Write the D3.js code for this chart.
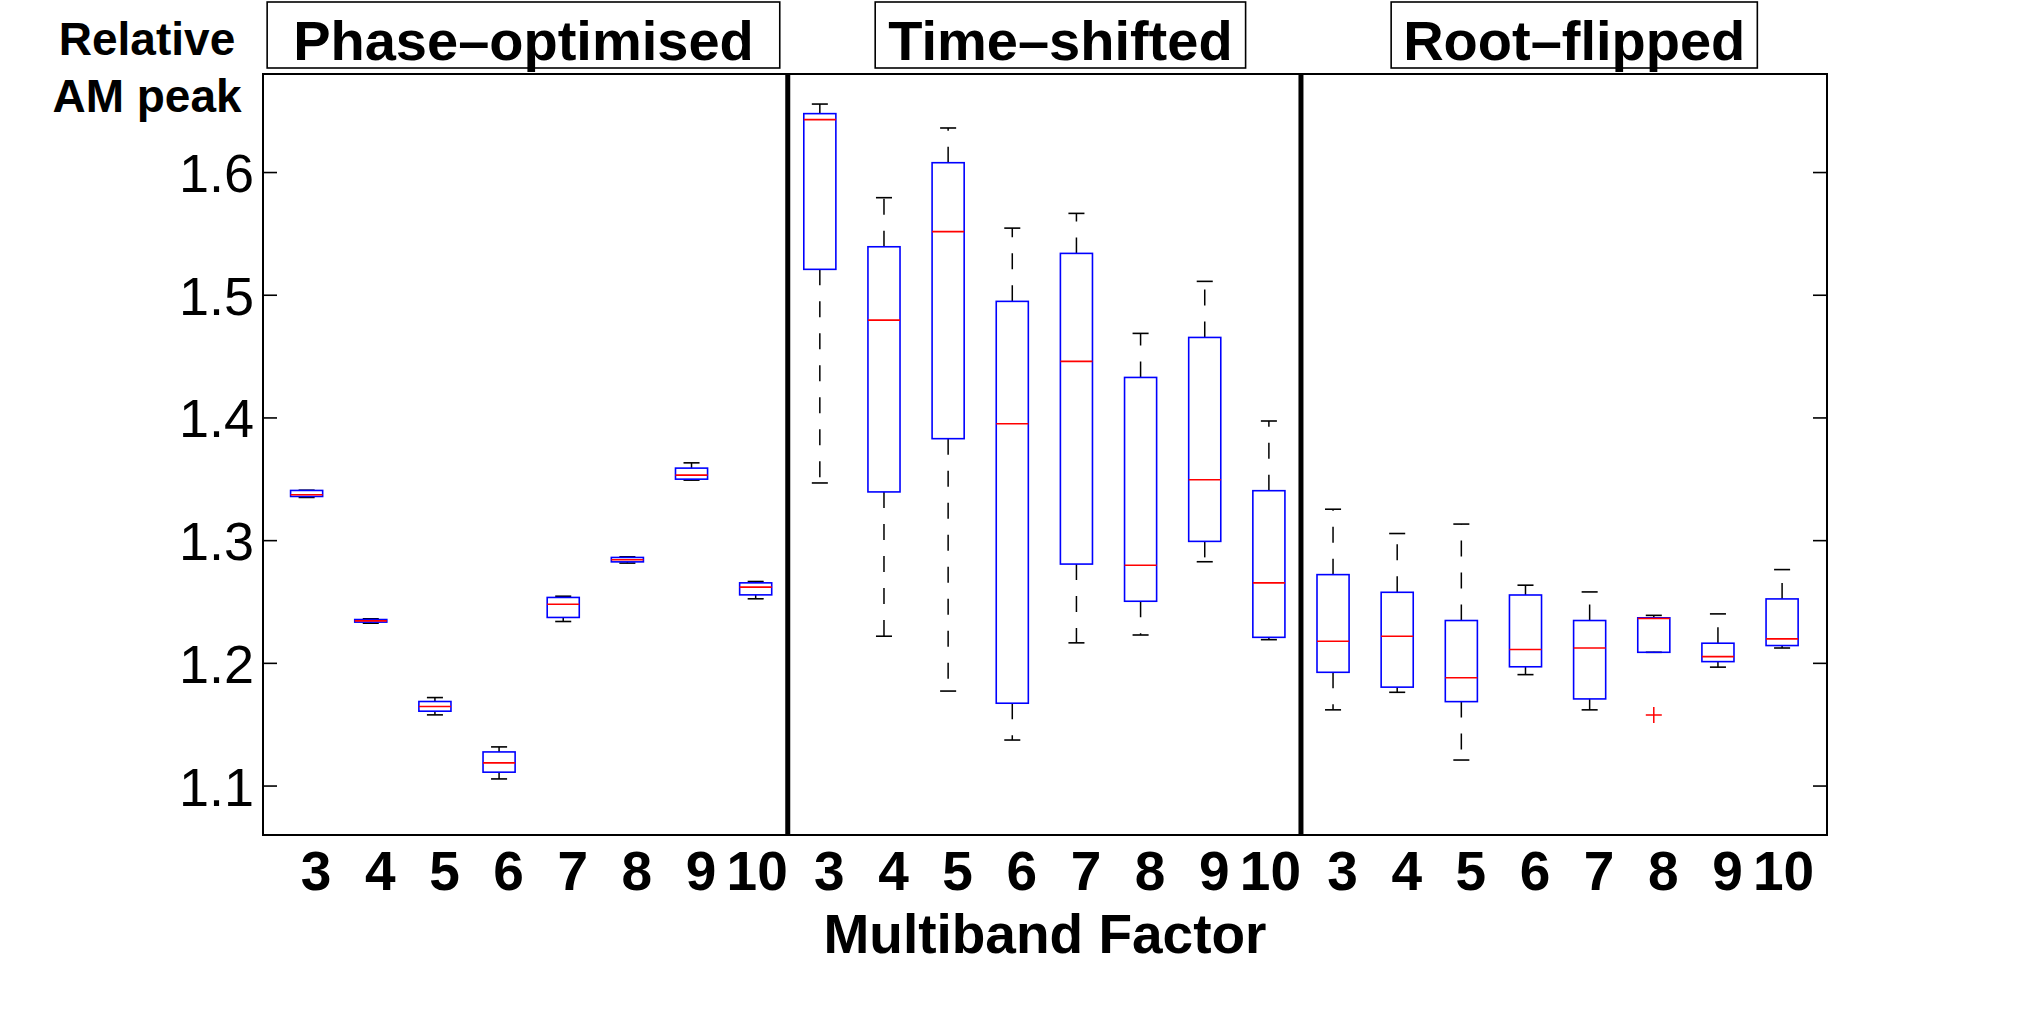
<!DOCTYPE html>
<html><head><meta charset="utf-8">
<script src="https://cdn.jsdelivr.net/npm/d3@7"></script>
<style>
body{margin:0;background:#fff}
svg{display:block}
text{font-family:"Liberation Sans",Arial,Helvetica,sans-serif;fill:#000}
</style>
</head><body>
<svg id="chart" width="2017" height="1014"></svg>
<script>
// ---------- data ----------
const panels = ["Phase–optimised", "Time–shifted", "Root–flipped"];
const panelTitleCenters = [4.38, 12.75, 20.76];
const factors = [3, 4, 5, 6, 7, 8, 9, 10];
const yTicks = [1.1, 1.2, 1.3, 1.4, 1.5, 1.6];
const yLabel = ["Relative", "AM peak"];
const xLabel = "Multiband Factor";

// order: Phase-optimised 3..10, Time-shifted 3..10, Root-flipped 3..10
const whiskerLow = [
  1.3348, 1.2323, 1.1576, 1.1054, 1.2337, 1.2813, 1.3489, 1.2522,
  1.3466, 1.2217, 1.1770, 1.1371, 1.2163, 1.2227, 1.2824, 1.2189,
  1.1617, 1.1760, 1.1208, 1.1904, 1.1617, 1.2086, 1.1965, 1.2121
];
const q1 = [
  1.3356, 1.2332, 1.1606, 1.1109, 1.2370, 1.2823, 1.3497, 1.2554,
  1.5207, 1.3393, 1.3827, 1.1671, 1.2805, 1.2502, 1.2990, 1.2208,
  1.1923, 1.1802, 1.1684, 1.1968, 1.1706, 1.2086, 1.2010, 1.2141
];
const median = [
  1.3370, 1.2342, 1.1644, 1.1185, 1.2478, 1.2840, 1.3530, 1.2617,
  1.6427, 1.4793, 1.5514, 1.3949, 1.4457, 1.2796, 1.3492, 1.2652,
  1.2176, 1.2217, 1.1879, 1.2109, 1.2121, 1.2361, 1.2051, 1.2195
];
const q3 = [
  1.3405, 1.2353, 1.1685, 1.1274, 1.2533, 1.2859, 1.3587, 1.2652,
  1.6476, 1.5391, 1.6076, 1.4946, 1.5337, 1.4326, 1.4652, 1.3403,
  1.2719, 1.2575, 1.2345, 1.2553, 1.2345, 1.2367, 1.2160, 1.2521
];
const whiskerHigh = [
  1.3407, 1.2359, 1.1717, 1.1315, 1.2543, 1.2864, 1.3630, 1.2663,
  1.6554, 1.5791, 1.6359, 1.5543, 1.5663, 1.4685, 1.5109, 1.3971,
  1.3252, 1.3054, 1.3131, 1.2633, 1.2578, 1.2387, 1.2399, 1.2760
];
const outlierPanel = ["Root–flipped"];
const outlierFactor = [8];
const outlierValue = [1.1575];

// ---------- layout ----------
const W = 2017, H = 1014;
const plot = {left: 263, right: 1827, top: 74, bottom: 835};
const titlePad = [26, 13, 12];
const svg = d3.select("#chart");
svg.append("rect").attr("width", W).attr("height", H).attr("fill", "#fff");

const x = d3.scaleLinear().domain([0.32, 24.70]).range([plot.left, plot.right]);
const y = d3.scaleLinear().domain([1.0597, 1.6799]).range([plot.bottom, plot.top]);

const boxes = [];
panels.forEach((p, g) => factors.forEach((f, i) => {
  const k = g * factors.length + i;
  boxes.push({pos: k + 1, label: String(f), lo: whiskerLow[k], q1: q1[k], med: median[k], q3: q3[k], hi: whiskerHigh[k]});
}));

const boxHalf = 0.25, capHalf = 0.125;
const g = svg.append("g");

// whiskers (dashed)
g.selectAll(".wu").data(boxes).join("line")
  .attr("x1", d => x(d.pos)).attr("x2", d => x(d.pos))
  .attr("y1", d => y(d.q3)).attr("y2", d => y(d.hi))
  .attr("stroke", "#000").attr("stroke-width", 1.5).attr("stroke-dasharray", "16,16");
g.selectAll(".wl").data(boxes).join("line")
  .attr("x1", d => x(d.pos)).attr("x2", d => x(d.pos))
  .attr("y1", d => y(d.q1)).attr("y2", d => y(d.lo))
  .attr("stroke", "#000").attr("stroke-width", 1.5).attr("stroke-dasharray", "16,16");
// caps
["hi", "lo"].forEach(key => {
  g.selectAll(".cap-" + key).data(boxes).join("line")
    .attr("x1", d => x(d.pos - capHalf)).attr("x2", d => x(d.pos + capHalf))
    .attr("y1", d => y(d[key])).attr("y2", d => y(d[key]))
    .attr("stroke", "#000").attr("stroke-width", 1.6);
});
// boxes
g.selectAll(".box").data(boxes).join("rect")
  .attr("x", d => x(d.pos - boxHalf)).attr("width", d => x(d.pos + boxHalf) - x(d.pos - boxHalf))
  .attr("y", d => y(d.q3)).attr("height", d => Math.max(0.5, y(d.q1) - y(d.q3)))
  .attr("fill", "none").attr("stroke", "#0000ff").attr("stroke-width", 1.6);
// medians
g.selectAll(".med").data(boxes).join("line")
  .attr("x1", d => x(d.pos - boxHalf)).attr("x2", d => x(d.pos + boxHalf))
  .attr("y1", d => y(d.med)).attr("y2", d => y(d.med))
  .attr("stroke", "#ff0000").attr("stroke-width", 1.6);
// outliers
const outl = outlierValue.map((v, j) => ({pos: panels.indexOf(outlierPanel[j]) * factors.length + factors.indexOf(outlierFactor[j]) + 1, v}));
const og = g.selectAll(".out").data(outl).join("g")
  .attr("transform", d => `translate(${x(d.pos)},${y(d.v)})`);
og.append("line").attr("x1", -8).attr("x2", 8).attr("stroke", "#ff0000").attr("stroke-width", 1.5);
og.append("line").attr("y1", -8).attr("y2", 8).attr("stroke", "#ff0000").attr("stroke-width", 1.5);

// frame
svg.append("rect").attr("x", plot.left).attr("y", plot.top)
  .attr("width", plot.right - plot.left).attr("height", plot.bottom - plot.top)
  .attr("fill", "none").attr("stroke", "#000").attr("stroke-width", 2);

// dividers between panels
const dividers = d3.range(1, panels.length).map(i => i * factors.length + 0.5);
svg.selectAll(".div").data(dividers).join("line")
  .attr("x1", d => x(d)).attr("x2", d => x(d))
  .attr("y1", plot.top).attr("y2", plot.bottom)
  .attr("stroke", "#000").attr("stroke-width", 5);

// y axes
const yAxisL = svg.append("g").attr("transform", `translate(${plot.left},0)`)
  .call(d3.axisLeft(y).tickValues(yTicks).tickFormat(d3.format(".1f")).tickSizeInner(-14).tickSizeOuter(0).tickPadding(9));
yAxisL.select(".domain").remove();
yAxisL.selectAll(".tick line").attr("stroke", "#000").attr("stroke-width", 1.6);
yAxisL.selectAll(".tick text").attr("font-size", 54).attr("fill", "#000").attr("dy", "0.36em")
  .style("font-family", '"Liberation Sans",Arial,sans-serif');

const yAxisR = svg.append("g").attr("transform", `translate(${plot.right},0)`)
  .call(d3.axisRight(y).tickValues(yTicks).tickFormat("").tickSizeInner(-14).tickSizeOuter(0));
yAxisR.select(".domain").remove();
yAxisR.selectAll(".tick line").attr("stroke", "#000").attr("stroke-width", 1.6);

// x axis labels
const xAxis = svg.append("g").attr("transform", `translate(0,${plot.bottom})`)
  .call(d3.axisBottom(x).tickValues(boxes.map(b => b.pos)).tickFormat((d, i) => boxes[i].label).tickSize(0));
xAxis.select(".domain").remove();
xAxis.selectAll(".tick text")
  .attr("y", 55).attr("dy", 0)
  .attr("dx", (d, i) => boxes[i].label.length === 1 ? 9 : 1)
  .attr("font-size", 55).attr("font-weight", "bold").attr("fill", "#000")
  .style("font-family", '"Liberation Sans",Arial,sans-serif');

// x label
svg.append("text").attr("x", (plot.left + plot.right) / 2).attr("y", 953)
  .attr("text-anchor", "middle").attr("font-size", 55).attr("font-weight", "bold").text(xLabel);

// y label (two lines, top-left)
svg.append("text").attr("x", 147).attr("y", 55).attr("text-anchor", "middle")
  .attr("font-size", 46).attr("font-weight", "bold").text(yLabel[0]);
svg.append("text").attr("x", 147).attr("y", 112).attr("text-anchor", "middle")
  .attr("font-size", 46).attr("font-weight", "bold").text(yLabel[1]);

// panel titles in boxes
panels.forEach((p, i) => {
  const tg = svg.append("g");
  const t = tg.append("text").attr("x", x(panelTitleCenters[i])).attr("y", 60)
    .attr("text-anchor", "middle").attr("font-size", 56).attr("font-weight", "bold").text(p);
  const bb = t.node().getBBox();
  tg.insert("rect", "text").attr("x", bb.x - titlePad[i]).attr("y", 2)
    .attr("width", bb.width + 2 * titlePad[i]).attr("height", 66)
    .attr("fill", "#fff").attr("stroke", "#000").attr("stroke-width", 1.6);
});
</script>
</body></html>
